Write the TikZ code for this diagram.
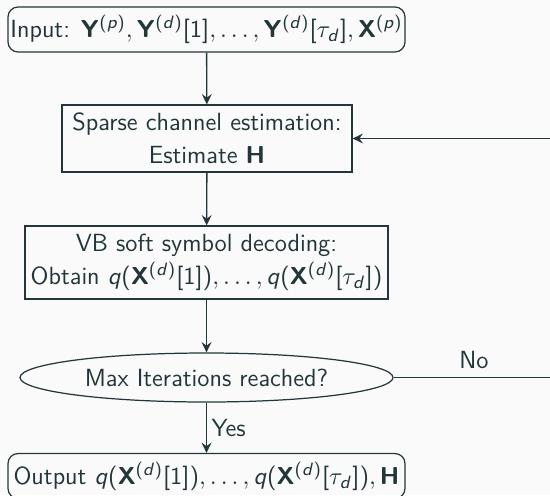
\documentclass[tikz,border=0pt]{standalone}
\usepackage{amsmath}
\usetikzlibrary{arrows.meta,shapes.geometric}
% sans-serif math: upright operators, slanted letters, bold letters
\SetSymbolFont{operators}{normal}{OT1}{cmss}{m}{n}
\DeclareMathAlphabet{\mathbsf}{OT1}{cmss}{bx}{n}
\DeclareMathAlphabet{\mathsfit}{OT1}{cmss}{m}{sl}
\newcommand{\varq}{\mathsfit{q}}
\newcommand{\varp}{\mathsfit{p}}
\newcommand{\vard}{\mathsfit{d}}
\definecolor{ink}{HTML}{23373B}
\definecolor{paper}{HTML}{FAFAFA}
\begin{document}
\begin{tikzpicture}[
  x=0.447pt, y=-0.447pt,
  every node/.style={text=ink, font=\fontsize{11.1}{14.6}\selectfont\sffamily},
  flowbox/.style={draw=ink, line width=0.55pt, inner sep=0pt, align=center},
  endbox/.style={flowbox, rounded corners=4.5pt},
  decision/.style={draw=ink, line width=0.55pt, ellipse, inner sep=0pt},
  flow/.style={draw=ink, line width=0.6pt, -{Stealth[length=4.6pt,width=4.4pt,inset=1.6pt]}},
  plain/.style={draw=ink, line width=0.6pt}
]
  \fill[paper] (0,0) rectangle (550,495);
  \useasboundingbox (0,0) rectangle (550,495);

  \node[endbox, minimum width=397*0.447pt, minimum height=45*0.447pt] (input) at (206.5,29.5)
    {Input: $\mathbsf{Y}^{(\varp)}, \mathbsf{Y}^{(\vard)}[1], \ldots, \mathbsf{Y}^{(\vard)}[\tau_{\vard}], \mathbsf{X}^{(\varp)}$};
  \node[flowbox, minimum width=290*0.447pt, minimum height=67*0.447pt] (chan) at (207,138.5)
    {Sparse channel estimation:\\ Estimate $\mathbsf{H}$};
  \node[flowbox, minimum width=363*0.447pt, minimum height=73*0.447pt] (vb) at (206.5,262.5)
    {VB soft symbol decoding:\\ Obtain $\varq(\mathbsf{X}^{(\vard)}[1]), \ldots, \varq(\mathbsf{X}^{(\vard)}[\tau_{\vard}])$};
  \node[decision, minimum width=373*0.447pt, minimum height=49*0.447pt] (check) at (206.5,377.5)
    {Max Iterations reached?};
  \node[endbox, minimum width=397*0.447pt, minimum height=45*0.447pt] (output) at (206.5,476)
    {Output $\varq(\mathbsf{X}^{(\vard)}[1]), \ldots, \varq(\mathbsf{X}^{(\vard)}[\tau_{\vard}]), \mathbsf{H}$};

  \coordinate (loop) at (560,377.5);

  \draw[flow] (input) -- (chan);
  \draw[flow] (chan) -- (vb);
  \draw[flow] (vb) -- (check);
  \draw[flow] (check) -- node[right, inner sep=2pt] {Yes} (output);
  \draw[plain] (check.east) -- (loop);
  \draw[flow] (loop) |- (chan.east);
  \node at (474,360) {No};
\end{tikzpicture}
\end{document}
